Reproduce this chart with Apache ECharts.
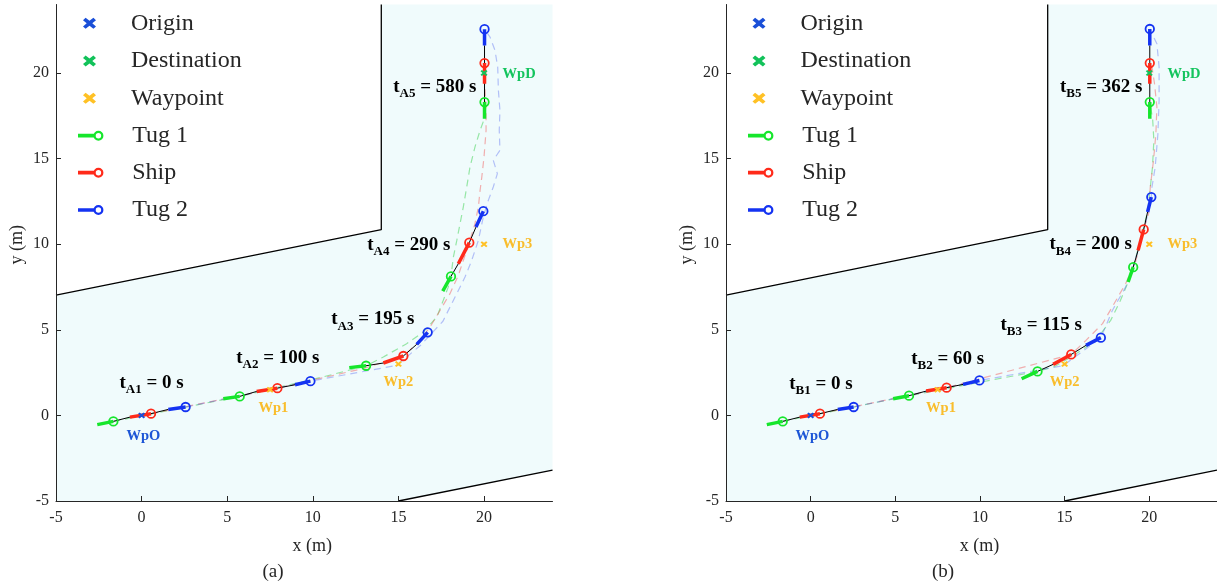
<!DOCTYPE html>
<html><head><meta charset="utf-8">
<script src="https://cdn.jsdelivr.net/npm/echarts@6/dist/echarts.min.js"></script>
<style>html,body{margin:0;padding:0;background:#fff}#c{width:1217px;height:586px}</style>
</head><body><div id="c"></div>
<script>
// ---------------- data ----------------
const TICKS = [-5, 0, 5, 10, 15, 20];
const AXIS_MIN = -5, AXIS_MAX = 24;
const WATER = [[-5,-5],[15,-5],[24,-3.2],[24,24],[14,24],[14,10.85],[-5,7.03]];
const COAST_UPPER = [[-5,7.03],[14,10.85],[14,24]];
const COAST_LOWER = [[15,-5],[24,-3.2]];
const ORIGIN = [[0,0]];
const DESTINATION = [[20,20]];
const WAYPOINTS = [[7.5,1.5],[15,3],[20,10]];
const WP_NAMES = ['WpO','Wp1','Wp2','Wp3','WpD'];
const WP_NAME_AT = [[0.1,-1.2],[7.7,0.4],[15,1.93],[21.95,10.0],[22.05,19.92]];
const LEGEND_NAMES = ['Origin','Destination','Waypoint','Tug 1','Ship','Tug 2'];

// panel (a)
const TIMES_A = [0, 100, 195, 290, 580];
const TIME_AT_A = [[-1.32,1.9],[5.5,3.35],[11.05,5.6],[13.15,9.95],[14.67,19.2]];
// vessel snapshots: [tailX, tailY, headX, headY]
const TUG1_A = [[-2.59,-0.54,-1.65,-0.35],[4.77,0.97,5.73,1.11],[12.13,2.79,13.11,2.9],[17.59,7.26,18.07,8.12],[20.03,17.33,20.03,18.3]];
const SHIP_A = [[-0.68,-0.1,0.55,0.1],[6.72,1.4,7.93,1.59],[14.12,3.06,15.29,3.47],[18.5,8.86,19.14,10.09],[20.03,19.37,20.03,20.58]];
const TUG2_A = [[1.56,0.35,2.57,0.49],[8.96,1.79,9.86,2.0],[16.07,4.15,16.71,4.85],[19.53,11.0,19.96,11.93],[20.03,21.61,20.03,22.56]];
const TRAJ_TUG1_A = [[-1.65,-0.35],[5.73,1.11],[10.6,2.25],[13.11,2.9],[14.12,3.41],[15.48,4.19],[16.45,4.87],[17.24,5.74],[17.62,6.72],[17.91,7.49],[18.07,8.12],[18.21,9.25],[18.41,10.22],[18.6,11.2],[18.79,12.17],[18.99,13.34],[19.18,14.5],[19.47,15.67],[19.77,16.65],[20.02,17.33],[20.03,18.3]];
const TRAJ_SHIP_A = [[0.55,0.1],[7.93,1.59],[13.0,2.75],[15.29,3.47],[16.07,4.19],[16.85,5.16],[17.43,6.13],[18.01,7.11],[18.5,8.18],[18.79,9.05],[19.14,10.09],[19.47,11.2],[19.67,12.17],[19.77,13.14],[19.87,13.92],[20.0,15.09],[20.12,16.65],[20.12,17.82],[20.04,19.37],[20.03,20.58]];
const TRAJ_TUG2_A = [[2.57,0.49],[9.86,2.0],[14.9,2.92],[16.3,4.1],[17.6,5.5],[18.3,6.9],[18.89,8.08],[19.28,9.05],[19.67,10.22],[19.96,11.6],[20.25,12.56],[20.54,13.34],[20.78,14.12],[20.54,14.9],[20.93,15.48],[20.89,16.65],[20.93,17.82],[20.84,18.98],[20.8,20.34],[20.64,21.32],[20.35,22.1],[20.03,22.56]];

// panel (b)
const TIMES_B = [0, 60, 115, 200, 362];
const TIME_AT_B = [[-1.3,1.85],[5.91,3.3],[11.18,5.3],[14.08,10.0],[14.7,19.2]];
const TUG1_B = [[-2.59,-0.54,-1.65,-0.35],[4.87,0.97,5.81,1.15],[12.46,2.14,13.4,2.57],[18.75,7.79,19.05,8.66],[20.03,17.33,20.03,18.3]];
const SHIP_B = [[-0.64,-0.1,0.55,0.1],[6.82,1.42,8.03,1.62],[14.32,2.98,15.39,3.56],[19.34,9.64,19.67,10.86],[20.03,19.37,20.03,20.58]];
const TUG2_B = [[1.6,0.35,2.54,0.49],[9.0,1.81,9.97,2.04],[16.26,4.09,17.14,4.54],[19.9,11.88,20.12,12.75],[20.03,21.61,20.03,22.57]];
const TRAJ_TUG1_B = [[-1.65,-0.35],[5.81,1.15],[13.4,2.57],[14.4,2.85],[15.39,3.41],[16.85,4.38],[17.72,5.55],[18.3,6.72],[18.75,7.79],[19.05,8.66],[19.5,10.3],[19.9,11.9],[20.19,14.5],[20.27,16.06],[20.2,17.3],[20.03,18.3]];
const TRAJ_SHIP_B = [[0.55,0.1],[8.03,1.62],[15.39,3.56],[16.26,4.38],[17.24,5.36],[17.92,6.52],[18.6,7.69],[19.2,9.0],[19.67,10.86],[19.96,11.78],[20.06,13.34],[20.25,14.9],[20.39,16.45],[20.45,18.01],[20.31,19.37],[20.16,20.35],[20.03,20.58]];
const TRAJ_TUG2_B = [[2.54,0.49],[9.97,2.04],[14.9,2.9],[16.0,3.7],[17.14,4.54],[17.82,6.13],[18.6,7.49],[19.05,8.66],[19.5,10.2],[19.9,11.7],[20.12,12.75],[20.16,13.34],[20.35,14.5],[20.51,16.45],[20.58,18.4],[20.58,20.35],[20.45,21.71],[20.03,22.57]];

// ---------------- styles ----------------
const SERIF = 'Liberation Serif';
const WATER_COLOR = '#f0fbfc';
const C_TUG1 = '#16e62c', C_SHIP = '#ff2a1a', C_TUG2 = '#1433f2';
const C_ORIGIN = '#1a4fd8', C_DEST = '#12c25a', C_WP = '#ffc125';
const WP_LABEL_COLORS = ['#1d56d6', '#f9bd2c', '#f9bd2c', '#f9bd2c', '#14c45e'];
const TRAJ_COLORS = ['rgba(60,210,80,0.5)', 'rgba(240,80,80,0.45)', 'rgba(90,110,240,0.42)'];
const X_PATH = 'path://M0,2.4 L2.6,0 L6.5,3.0 L10.4,0 L13,2.4 L9.3,5.5 L13,8.6 L10.4,11 L6.5,8.0 L2.6,11 L0,8.6 L3.7,5.5 Z';
const TUG_ICON = 'path://M0,3.3 L16,3.3 L16,6.7 L0,6.7 Z M18.8,0.4 A4.6,4.6 0 1 1 18.8,9.6 A4.6,4.6 0 1 1 18.8,0.4 Z M18.8,2.5 A2.5,2.5 0 1 0 18.8,7.5 A2.5,2.5 0 1 0 18.8,2.5 Z';

const GRID_LEFT = [56, 726];
const GRID_TOP = 4.5, GRID_SIZE = 496.5;
const LEGEND_ROW_Y = [23.3, 61, 98.3, 135.7, 172.7, 210];
const LEGEND_ICON_LEFT = [[83, 78], [752.5, 748]]; // [x-icon, tug-icon] left edge per panel

function vesselData(segs, color) {
  const out = [];
  segs.forEach(s => {
    out.push({ value: [s[0], s[1]], symbol: 'none' });
    out.push({ value: [s[2], s[3]], symbol: 'circle', symbolSize: 8.5,
      itemStyle: { color: 'rgba(255,255,255,0)', borderColor: color, borderWidth: 1.8 } });
    out.push({ value: ['-', '-'] });
  });
  return out;
}
function connectorData(t1, sh, t2) {
  const out = [];
  for (let i = 0; i < t1.length; i++) {
    out.push([t1[i][2], t1[i][3]], [sh[i][0], sh[i][1]], [sh[i][2], sh[i][3]], [t2[i][0], t2[i][1]], ['-', '-']);
  }
  return out;
}

function panelSeries(i, P) {
  const ax = { xAxisIndex: i, yAxisIndex: i, silent: true, animation: false };
  const s = [];
  s.push(Object.assign({ type: 'custom', z: 1, data: WATER,
    renderItem: (params, api) => {
      if (params.dataIndex !== 0) return null;
      return { type: 'polygon', shape: { points: WATER.map(p => api.coord(p)) }, style: { fill: WATER_COLOR } };
    } }, ax));
  [COAST_UPPER, COAST_LOWER].forEach(c => s.push(Object.assign({ type: 'line', z: 2, data: c, symbol: 'none',
    lineStyle: { color: '#000', width: 1.3 } }, ax)));
  [P.trajT1, P.trajSh, P.trajT2].forEach((t, k) => s.push(Object.assign({ type: 'line', z: 3, data: t, symbol: 'none',
    lineStyle: { color: TRAJ_COLORS[k], width: 1.2, type: [7, 5] } }, ax)));
  s.push(Object.assign({ type: 'line', z: 4, data: connectorData(P.t1, P.sh, P.t2), symbol: 'none',
    lineStyle: { color: '#000', width: 1 } }, ax));
  [['Tug 1', P.t1, C_TUG1], ['Ship', P.sh, C_SHIP], ['Tug 2', P.t2, C_TUG2]].forEach(v => s.push(Object.assign({
    type: 'line', name: v[0], z: 5, data: vesselData(v[1], v[2]), showSymbol: true,
    itemStyle: { color: v[2] }, lineStyle: { color: v[2], width: 3.5 } }, ax)));
  [['Origin', ORIGIN, C_ORIGIN], ['Destination', DESTINATION, C_DEST], ['Waypoint', WAYPOINTS, C_WP]].forEach(m => s.push(Object.assign({
    type: 'scatter', name: m[0], z: 6, data: m[1], symbol: X_PATH, symbolSize: [7, 6],
    itemStyle: { color: m[2], opacity: 1 } }, ax)));
  s.push(Object.assign({ type: 'scatter', z: 7, symbolSize: 1, itemStyle: { color: 'rgba(0,0,0,0)', opacity: 1 },
    data: P.times.map((t, k) => ({ value: P.timeAt[k], sub: P.letter + (k + 1), time: t })),
    label: { show: true, position: 'right', distance: 0, opacity: 1,
      formatter: p => '{t|t}{s|' + p.data.sub + '}{t| = ' + p.data.time + ' s}',
      rich: {
        t: { fontFamily: SERIF, fontWeight: 'bold', fontSize: 19, color: '#000' },
        s: { fontFamily: SERIF, fontWeight: 'bold', fontSize: 13, color: '#000', verticalAlign: 'bottom', lineHeight: 27 }
      } } }, ax));
  s.push(Object.assign({ type: 'scatter', z: 7, symbolSize: 1, itemStyle: { color: 'rgba(0,0,0,0)', opacity: 1 },
    data: WP_NAMES.map((n, k) => ({ value: WP_NAME_AT[k], name: n,
      label: { color: WP_LABEL_COLORS[k] } })),
    label: { show: true, position: 'inside', formatter: '{b}', opacity: 1, fontFamily: SERIF, fontWeight: 'bold', fontSize: 14.5 } }, ax));
  return s;
}

const panels = [
  { letter: 'A', times: TIMES_A, timeAt: TIME_AT_A, t1: TUG1_A, sh: SHIP_A, t2: TUG2_A, trajT1: TRAJ_TUG1_A, trajSh: TRAJ_SHIP_A, trajT2: TRAJ_TUG2_A },
  { letter: 'B', times: TIMES_B, timeAt: TIME_AT_B, t1: TUG1_B, sh: SHIP_B, t2: TUG2_B, trajT1: TRAJ_TUG1_B, trajSh: TRAJ_SHIP_B, trajT2: TRAJ_TUG2_B }
];

const axisCommon = {
  type: 'value', min: AXIS_MIN, max: AXIS_MAX, interval: 5, z: 10,
  splitLine: { show: false },
  axisLine: { onZero: false, lineStyle: { color: '#262626', width: 1 } },
  axisTick: { inside: true, length: 5, customValues: TICKS, lineStyle: { color: '#262626' } },
  nameLocation: 'middle',
  nameTextStyle: { fontFamily: SERIF, fontSize: 18, color: '#262626' }
};
const xAxes = [0, 1].map(i => Object.assign({}, axisCommon, {
  gridIndex: i, name: 'x (m)', nameGap: 36,
  nameTextStyle: Object.assign({}, axisCommon.nameTextStyle, { padding: [0, 0, 0, 16] }),
  axisLabel: { customValues: TICKS, margin: 9, fontFamily: SERIF, fontSize: 16, color: '#262626' }
}));
const yAxes = [0, 1].map(i => Object.assign({}, axisCommon, {
  gridIndex: i, name: 'y (m)', nameGap: 30,
  nameTextStyle: Object.assign({}, axisCommon.nameTextStyle, { padding: [0, 0, 0, 16] }),
  axisLabel: { customValues: TICKS, margin: 7, fontFamily: SERIF, fontSize: 16, color: '#262626' }
}));

const legends = [];
[0, 1].forEach(i => {
  LEGEND_NAMES.forEach((n, k) => {
    const isX = k < 3;
    legends.push({
      left: LEGEND_ICON_LEFT[i][isX ? 0 : 1], top: LEGEND_ROW_Y[k] - 12, padding: 0,
      itemWidth: 73, itemHeight: isX ? 11 : 10, selectedMode: false,
      itemStyle: { borderWidth: 0, opacity: 1 },
      data: [{ name: n, icon: isX ? X_PATH : TUG_ICON }],
      textStyle: { fontFamily: SERIF, fontSize: 24, color: '#262626', padding: [0, 0, 0, 0] }
    });
  });
});

const option = {
  animation: false,
  backgroundColor: '#ffffff',
  grid: GRID_LEFT.map(l => ({ left: l, top: GRID_TOP, width: GRID_SIZE, height: GRID_SIZE })),
  xAxis: xAxes,
  yAxis: yAxes,
  legend: legends,
  series: panelSeries(0, panels[0]).concat(panelSeries(1, panels[1])),
  graphic: [
    { type: 'text', x: 273, y: 572, style: { text: '(a)', font: '19px "Liberation Serif"', fill: '#262626', align: 'center', verticalAlign: 'middle' } },
    { type: 'text', x: 943, y: 572, style: { text: '(b)', font: '19px "Liberation Serif"', fill: '#262626', align: 'center', verticalAlign: 'middle' } }
  ]
};
const chart = echarts.init(document.getElementById('c'), null, { renderer: 'canvas' });
chart.setOption(option);
</script></body></html>
